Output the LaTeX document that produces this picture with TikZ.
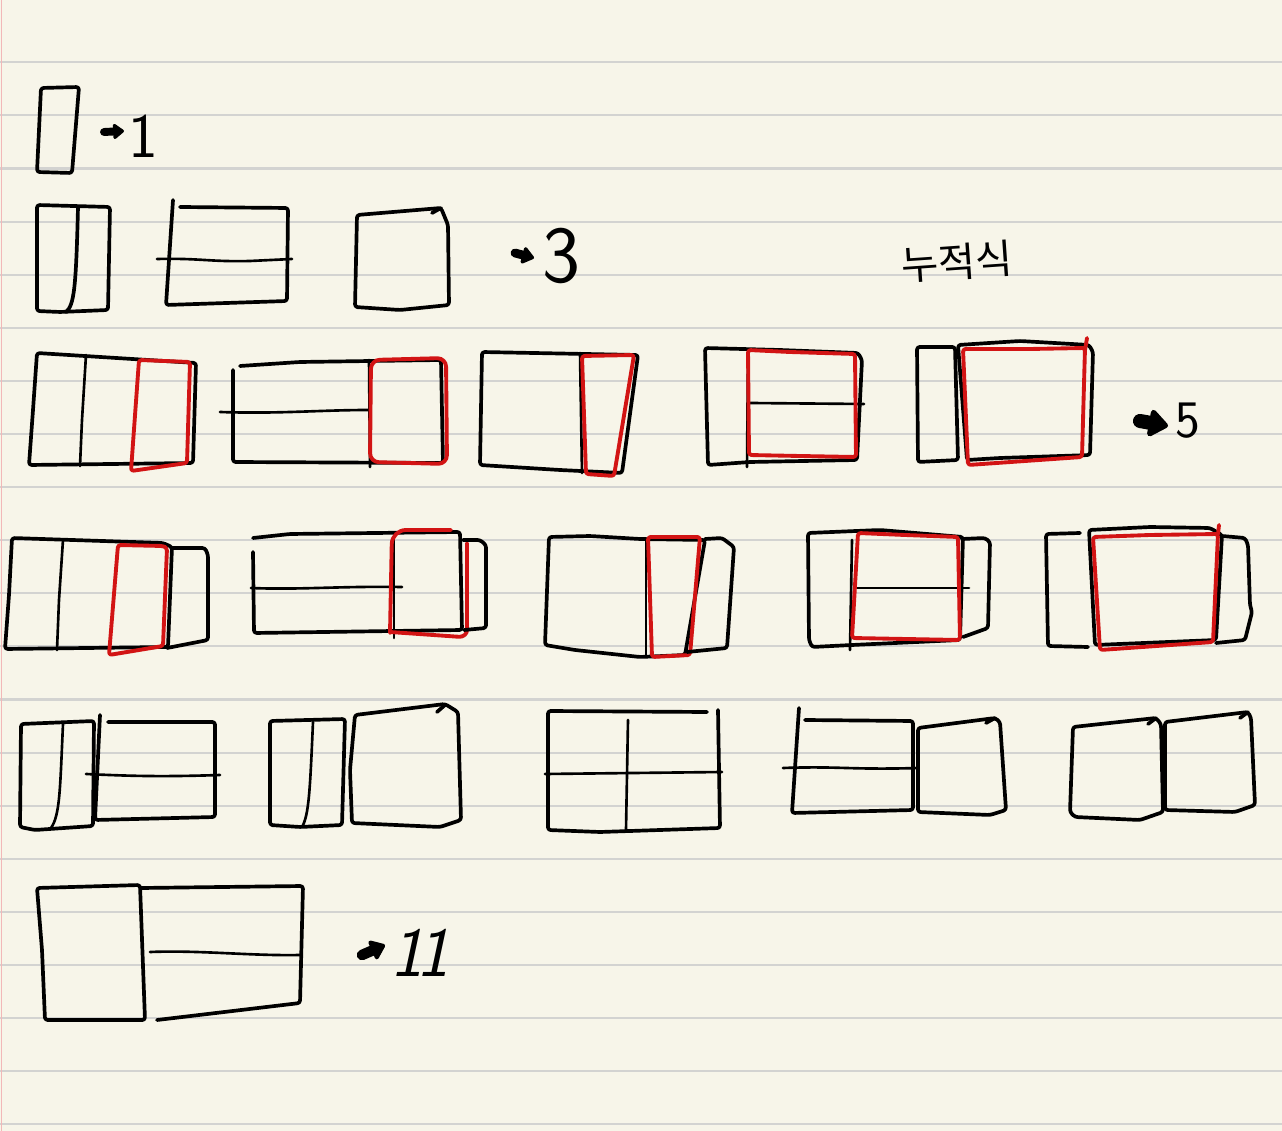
\documentclass[tikz,border=0pt]{standalone}
\usepackage{fontspec}
\newfontfamily\krfont{Noto Sans CJK KR}
\usetikzlibrary{arrows.meta}

\definecolor{paper}{HTML}{F7F5E9}
\definecolor{ruling}{HTML}{D3D3D1}
\definecolor{margin}{HTML}{F2B8B8}
\definecolor{inkred}{HTML}{D21414}

\begin{document}
\begin{tikzpicture}[x=0.02cm, y=-0.02cm,
	pen/.style={line width=2.1pt, line cap=round, line join=round, rounded corners=1.5pt},
	thin/.style={line width=1.5pt, line cap=round},
	redpen/.style={pen, draw=inkred, line width=2.2pt},
	blob/.style={line width=#1, line cap=round, -{Triangle[length=1.5*#1, width=2.2*#1, round]}},
	digit/.style={font=\sffamily\fontsize{#1}{#1}\selectfont, inner sep=0pt}]

	\fill[paper] (0,0) rectangle (1282,1131);
	\useasboundingbox (0,0) rectangle (1282,1131);

	\foreach \k in {0,...,20}
	{
		\draw[ruling, line width=1.2pt] (0,{62.3+53.1*\k}) -- (1282,{62.3+53.1*\k});
	}
	\draw[margin, line width=0.8pt] (1.5,0) -- (1.5,1131);

	% row 1
	\draw[pen] (41,88) -- (79,87) -- (72,173) -- (37,172) -- cycle;
	\draw[blob=4.5pt] (104,132) -- (124,131);
	\node[digit=36] (one) at (143,136) {1};

	% row 2
	\draw[pen] (37,205) -- (110,207) -- (108,310) -- (60,312) -- (37,311) -- cycle;
	\draw[pen] (78,207) .. controls (76,290) and (74,305) .. (66,312);
	\draw[pen] (173,200) -- (166,305) -- (287,301) -- (288,208) -- (180,207);
	\draw[thin] (157,259) .. controls (200,258) and (210,262) .. (250,261) -- (292,259);
	\draw[pen] (357,215) -- (441,208) -- (448,225) -- (449,305) -- (400,310) -- (355,307) -- cycle;
	\draw[pen] (432,213) -- (441,208);
	\draw[blob=5pt] (515,253) -- (534,258);
	\node[digit=46] (three) at (561,256) {3};
	\node[font=\krfont\fontsize{23}{23}\selectfont, inner sep=0pt, rotate=4] (label) at (957,262) {누적식};

	% row 3
	\draw[pen] (37,353) -- (196,363) -- (193,463) -- (29,465) -- (33,410) -- cycle;
	\draw[thin] (86,355) -- (82,420) -- (80,466);
	\draw[redpen] (139,360) -- (190,362) -- (187,463) -- (131,471) -- cycle;

	\draw[pen] (233,370) -- (233,462) -- (443,463) -- (441,360) -- (300,362) -- (240,366);
	\draw[thin] (220,412) .. controls (280,414) and (320,410) .. (369,410);
	\draw[thin] (369,360) -- (370,467);
	\draw[redpen, rounded corners=5pt] (370,462) -- (371,360) -- (446,358) -- (447,464) -- cycle;

	\draw[pen] (482,352) -- (638,355) -- (622,473) -- (560,470) -- (480,465) -- cycle;
	\draw[thin] (580,353) -- (582,473);
	\draw[redpen] (582,356) -- (634,355) -- (614,476) -- (586,474) -- cycle;

	\draw[pen] (705,348) -- (780,350) -- (858,353) -- (862,360) -- (857,460) -- (750,462) -- (708,465) -- cycle;
	\draw[thin] (750,403) -- (864,404);
	\draw[thin] (748,352) -- (747,467);
	\draw[redpen] (748,350) -- (790,352) -- (855,354) -- (856,457) -- (800,456) -- (749,455) -- cycle;

	\draw[pen] (917,347) -- (955,347) -- (958,460) -- (918,462) -- cycle;
	\draw[pen] (958,345) -- (1020,341) -- (1089,345) -- (1093,352) -- (1090,455) -- (1000,458) -- (967,460) -- cycle;
	\draw[redpen] (963,349) -- (1030,349) -- (1085,348) -- (1082,457) -- (968,465) -- cycle;
	\draw[redpen] (1087,338) -- (1085,350);
	\draw[blob=8pt] (1140,421) -- (1168,426);
	\node[digit=30] (five) at (1188,421) {5};

	% row 4
	\draw[pen] (12,538) -- (163,543) -- (172,547) -- (168,647) -- (5,649) -- (9,595) -- cycle;
	\draw[thin] (63,540) -- (59,600) -- (57,650);
	\draw[pen] (172,548) -- (205,548) -- (208,555) -- (208,640) -- (167,648);
	\draw[redpen] (118,545) -- (163,546) -- (167,548) -- (163,646) -- (109,655) -- cycle;

	\draw[pen] (253,538) -- (290,534) -- (460,532) -- (462,630) -- (254,633) -- (253,552);
	\draw[thin] (251,588) .. controls (300,590) and (340,586) .. (402,587);
	\draw[thin] (394,535) -- (394,638);
	\draw[redpen, rounded corners=8pt] (390,633) -- (392,530) -- (451,530);
	\draw[redpen] (467,543) -- (467,633) -- (462,637) -- (390,632);
	\draw[pen] (463,540) -- (480,540) -- (486,545) -- (486,628) -- (464,630);

	\draw[pen] (549,537) -- (590,536) -- (640,539) -- (705,540) -- (685,655) -- (640,657) -- (575,650) -- (545,645) -- cycle;
	\draw[thin] (646,540) -- (646,657);
	\draw[redpen] (648,537) -- (700,537) -- (690,655) -- (652,657) -- cycle;
	\draw[pen] (705,539) -- (722,538) -- (734,547) -- (727,648) -- (687,652);

	\draw[pen] (808,533) -- (880,530) -- (963,537) -- (960,640) -- (852,645) -- (812,647) -- (809,640) -- cycle;
	\draw[thin] (855,588) -- (969,588);
	\draw[thin] (852,540) -- (850,650);
	\draw[redpen] (858,533) -- (905,535) -- (958,537) -- (960,640) -- (852,638) -- cycle;
	\draw[pen] (962,539) -- (985,538) -- (990,542) -- (988,628) -- (963,637);

	\draw[pen] (1080,533) -- (1046,534) -- (1048,646) -- (1088,647);
	\draw[pen] (1089,530) -- (1150,527) -- (1210,528) -- (1222,535) -- (1216,640) -- (1095,645) -- cycle;
	\draw[redpen] (1093,537) -- (1150,535) -- (1218,534) -- (1213,642) -- (1100,650) -- cycle;
	\draw[redpen] (1218,534) -- (1219,525);
	\draw[pen] (1222,536) -- (1245,538) -- (1248,545) -- (1250,605) -- (1252,612) -- (1245,640) -- (1216,643);

	% row 5
	\draw[pen] (21,724) -- (94,721) -- (93,826) -- (35,830) -- (20,827) -- cycle;
	\draw[thin] (63,724) .. controls (60,790) and (60,815) .. (51,828);
	\draw[pen] (100,715) -- (95,820) -- (215,817) -- (215,722) -- (108,722);
	\draw[thin] (86,774) .. controls (130,776) and (160,777) .. (220,775);

	\draw[pen] (270,721) -- (345,719) -- (342,825) -- (300,827) -- (270,825) -- cycle;
	\draw[thin] (313,722) .. controls (310,790) and (309,815) .. (302,827);
	\draw[pen] (355,715) -- (445,704) -- (458,712) -- (461,820) -- (440,827) -- (352,823) -- (350,770) -- cycle;
	\draw[pen] (437,712) -- (445,705);

	\draw[pen] (707,712) -- (548,711) -- (548,830) -- (600,832) -- (720,828) -- (718,710);
	\draw[thin] (628,720) -- (626,830);
	\draw[thin] (545,774) -- (722,772);

	\draw[pen] (799,708) -- (792,813) -- (913,810) -- (913,721) -- (805,720);
	\draw[thin] (783,768) .. controls (840,766) and (850,770) .. (918,768);
	\draw[pen] (918,728) -- (995,718) -- (1000,722) -- (1006,810) -- (990,815) -- (918,812) -- cycle;
	\draw[pen] (986,723) -- (995,718);

	\draw[pen] (1073,727) -- (1156,718) -- (1161,724) -- (1163,812) -- (1140,820) -- (1075,817) -- (1070,812) -- cycle;
	\draw[pen] (1148,724) -- (1156,718);
	\draw[pen] (1165,722) -- (1248,712) -- (1251,718) -- (1255,805) -- (1235,812) -- (1165,810) -- cycle;
	\draw[pen] (1240,718) -- (1248,712);

	% row 6
	\draw[pen] (37,888) -- (140,885) -- (145,1020) -- (45,1020) -- (42,950) -- cycle;
	\draw[pen] (141,888) -- (303,886) -- (300,1003) -- (157,1020);
	\draw[thin] (150,952) .. controls (200,950) and (250,956) .. (300,955);
	\draw[blob=6pt] (362,955) -- (385,945);
	\node[font=\sffamily\slshape\fontsize{40}{40}\selectfont, inner sep=0pt] (eleven) at (420,953) {1\kern-0.1em 1};
\end{tikzpicture}
\end{document}
